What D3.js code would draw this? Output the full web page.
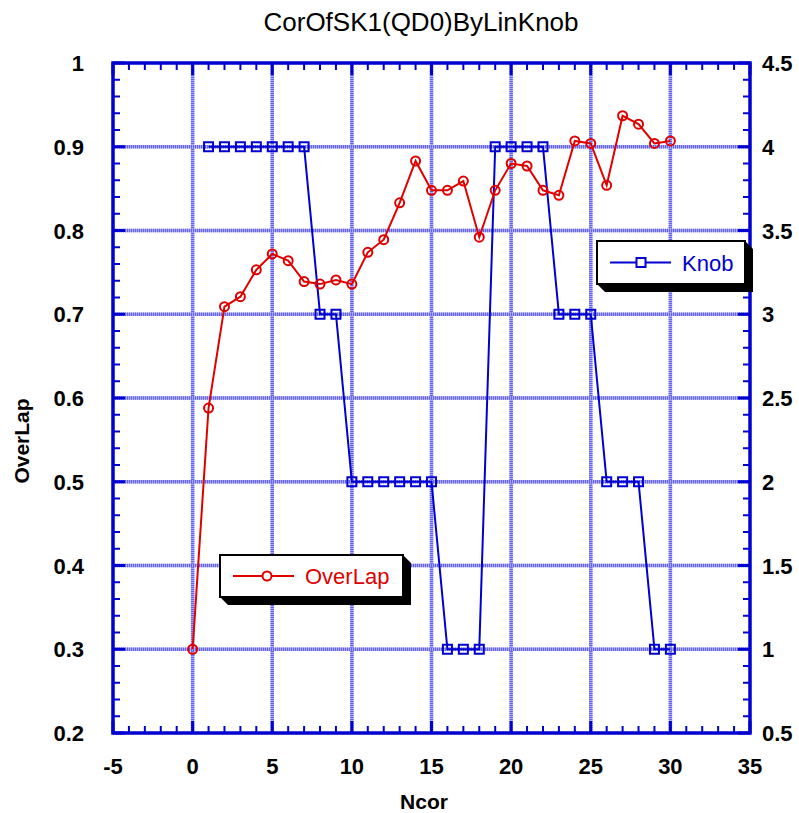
<!DOCTYPE html>
<html>
<head>
<meta charset="utf-8">
<script src="https://cdn.jsdelivr.net/npm/d3@7"></script>
<style>
  body { margin: 0; background: #fff; }
  svg { display: block; font-family: "Liberation Sans", Arial, sans-serif; }
</style>
</head>
<body>
<svg id="chart" width="799" height="813"></svg>
<script>
// ---- Data ----
const ncor = [0,1,2,3,4,5,6,7,8,9,10,11,12,13,14,15,16,17,18,19,20,21,22,23,24,25,26,27,28,29,30];
const overlap = [0.300,0.588,0.709,0.721,0.753,0.772,0.764,0.739,0.736,0.741,0.736,0.774,0.789,0.833,0.883,0.848,0.848,0.859,0.792,0.848,0.880,0.877,0.848,0.842,0.907,0.904,0.854,0.937,0.927,0.904,0.907];
const knobX = [1,2,3,4,5,6,7,8,9,10,11,12,13,14,15,16,17,18,19,20,21,22,23,24,25,26,27,28,29,30];
const knob = [4,4,4,4,4,4,4,3,3,2,2,2,2,2,2,1,1,1,4,4,4,4,3,3,3,2,2,2,1,1];
const xTicks = [-5,0,5,10,15,20,25,30,35];
const yLeftTicks = [0.2,0.3,0.4,0.5,0.6,0.7,0.8,0.9,1];
const yRightTicks = [0.5,1,1.5,2,2.5,3,3.5,4,4.5];
const title = "CorOfSK1(QD0)ByLinKnob";
const xLabel = "Ncor";
const yLabel = "OverLap";

// ---- Layout ----
const svg = d3.select("#chart");
const L = 113, R = 750, T = 63, B = 733;
const x = d3.scaleLinear().domain([-5, 35]).range([L, R]);
const yL = d3.scaleLinear().domain([0.2, 1]).range([B, T]);
const yR = d3.scaleLinear().domain([0.5, 4.5]).range([B, T]);

const AX = "#0000d0";
const RED = "#e00000";
const BLUE = "#0000d0";

// grid lines
const grid = svg.append("g");
function gridLine(x1, y1, x2, y2) {
  grid.append("line").attr("x1", x1).attr("y1", y1).attr("x2", x2).attr("y2", y2)
    .attr("stroke", "#aaaaf6").attr("stroke-width", 3.5);
  grid.append("line").attr("x1", x1).attr("y1", y1).attr("x2", x2).attr("y2", y2)
    .attr("stroke", "#6262ee").attr("stroke-width", 3.5).attr("stroke-dasharray", "1,1");
}
xTicks.slice(1, -1).forEach(v => gridLine(x(v), T, x(v), B));
yLeftTicks.slice(1, -1).forEach(v => gridLine(L, yL(v), R, yL(v)));

// axes with inward ticks
const minorX = d3.range(-5, 35.001, 1);
const minorY = d3.range(0.2, 1.0001, 0.02);
const axG = svg.append("g");
function tick(x1, y1, x2, y2, w) {
  axG.append("line").attr("x1", x1).attr("y1", y1).attr("x2", x2).attr("y2", y2)
    .attr("stroke", AX).attr("stroke-width", w);
}
minorX.forEach(v => {
  const major = Math.abs(v % 5) < 1e-6;
  const len = major ? 12 : 7;
  tick(x(v), B, x(v), B - len, major ? 3 : 2);
  tick(x(v), T, x(v), T + len, major ? 3 : 2);
});
minorY.forEach(v => {
  const major = Math.abs(Math.round(v * 50) % 5) === 0;
  const len = major ? 12 : 7;
  tick(L, yL(v), L + len, yL(v), major ? 3 : 2);
  tick(R, yL(v), R - len, yL(v), major ? 3 : 2);
});
axG.append("rect").attr("x", L).attr("y", T).attr("width", R - L).attr("height", B - T)
  .attr("fill", "none").attr("stroke", AX).attr("stroke-width", 3.5);

// tick labels
const lab = svg.append("g").attr("font-size", 22).attr("font-weight", "bold").attr("fill", "#000");
xTicks.forEach(v => lab.append("text").attr("x", x(v)).attr("y", 774).attr("text-anchor", "middle").text(v));
yLeftTicks.forEach(v => lab.append("text").attr("x", 84).attr("y", yL(v) + 8).attr("text-anchor", "end").text(d3.format("~g")(v)));
yRightTicks.forEach(v => lab.append("text").attr("x", 762).attr("y", yR(v) + 8).attr("text-anchor", "start").text(d3.format("~g")(v)));

// titles
svg.append("text").attr("x", 421).attr("y", 31).attr("text-anchor", "middle").attr("font-size", 26).text(title);
svg.append("text").attr("x", 424).attr("y", 809).attr("text-anchor", "middle").attr("font-size", 21).attr("font-weight", "bold").text(xLabel);
svg.append("text").attr("transform", "translate(29,441) rotate(-90)").attr("text-anchor", "middle").attr("font-size", 21).attr("font-weight", "bold").text(yLabel);

// series
const kData = knobX.map((v, i) => [v, knob[i]]);
const oData = ncor.map((v, i) => [v, overlap[i]]);
svg.append("path").datum(kData)
  .attr("d", d3.line().x(d => x(d[0])).y(d => yR(d[1])))
  .attr("fill", "none").attr("stroke", BLUE).attr("stroke-width", 2);
svg.append("g").selectAll("rect").data(kData).join("rect")
  .attr("x", d => x(d[0]) - 4.5).attr("y", d => yR(d[1]) - 4.5).attr("width", 9).attr("height", 9)
  .attr("fill", "none").attr("stroke", BLUE).attr("stroke-width", 2);
svg.append("path").datum(oData)
  .attr("d", d3.line().x(d => x(d[0])).y(d => yL(d[1])))
  .attr("fill", "none").attr("stroke", RED).attr("stroke-width", 2);
svg.append("g").selectAll("circle").data(oData).join("circle")
  .attr("cx", d => x(d[0])).attr("cy", d => yL(d[1])).attr("r", 4.5)
  .attr("fill", "none").attr("stroke", RED).attr("stroke-width", 2);

// legends
function legend(bx, by, bw, bh, color, label, marker) {
  const g = svg.append("g");
  const s = 8;
  g.append("path").attr("fill", "#000")
    .attr("d", `M${bx},${by + bh} L${bx + s},${by + bh + s} L${bx + bw + s},${by + bh + s} L${bx + bw + s},${by + s} L${bx + bw},${by} Z`);
  g.append("rect").attr("x", bx).attr("y", by).attr("width", bw).attr("height", bh)
    .attr("fill", "#fff").attr("stroke", "#000").attr("stroke-width", 2);
  const ly = by + bh / 2;
  g.append("line").attr("x1", bx + 13).attr("x2", bx + 74).attr("y1", ly).attr("y2", ly)
    .attr("stroke", color).attr("stroke-width", 2);
  if (marker === "circle") {
    g.append("circle").attr("cx", bx + 47).attr("cy", ly).attr("r", 4.5).attr("fill", "#fff")
      .attr("stroke", color).attr("stroke-width", 2);
  } else {
    g.append("rect").attr("x", bx + 44 - 4.5).attr("y", ly - 4.5).attr("width", 9).attr("height", 9)
      .attr("fill", "#fff").attr("stroke", color).attr("stroke-width", 2);
  }
  g.append("text").attr("x", bx + 85).attr("y", ly + 8).attr("font-size", 22).attr("fill", color).text(label);
}
legend(220, 555, 183, 42, RED, "OverLap", "circle");
legend(597, 241, 148, 43, BLUE, "Knob", "square");
</script>
</body>
</html>
